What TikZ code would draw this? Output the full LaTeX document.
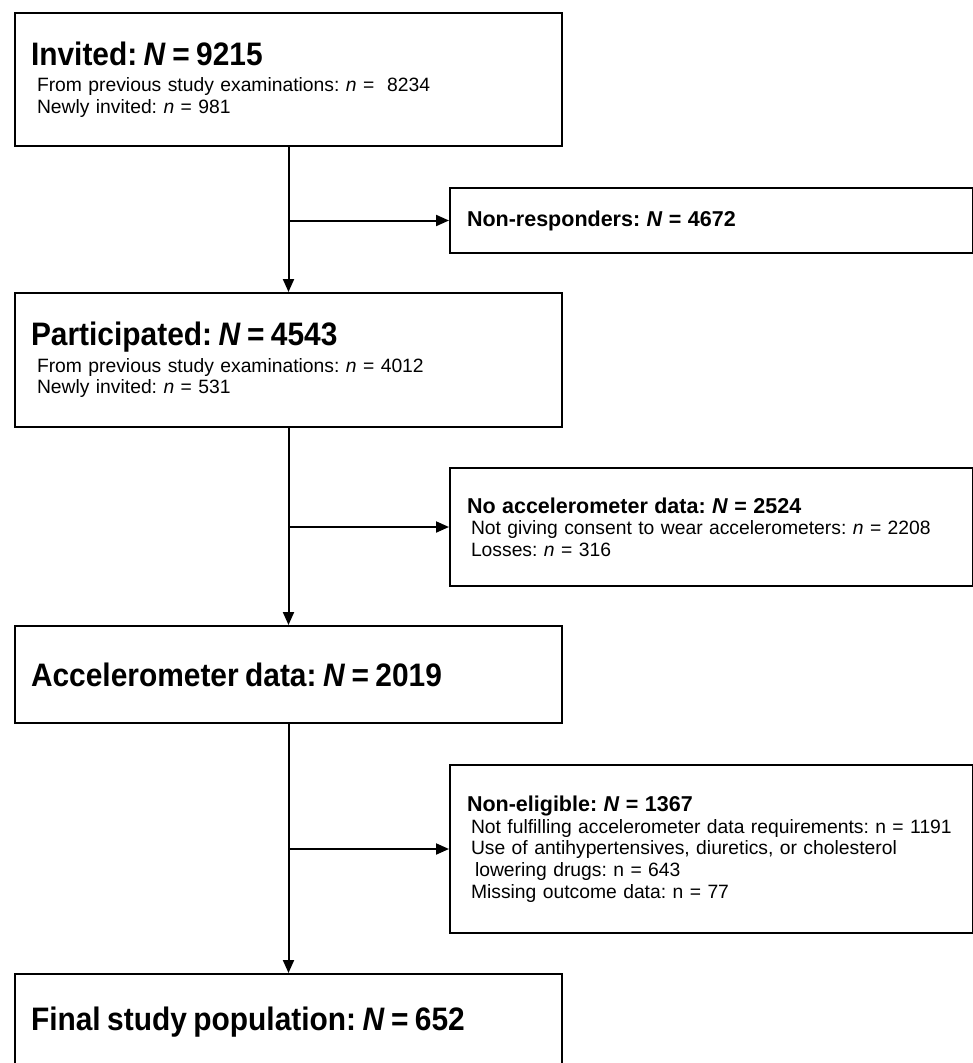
\documentclass[tikz,border=0pt]{standalone}
\usepackage{fontspec}
\setmainfont{Liberation Sans}
\newfontfamily\narrowfont{Liberation Sans}[FakeStretch=0.92]
\usetikzlibrary{arrows.meta}
\newcommand{\bigfont}{\narrowfont\fontsize{32.5}{37}\bfseries\selectfont}
\newcommand{\midfont}{\fontsize{21.5}{24}\bfseries\selectfont}
\newcommand{\smallfont}{\fontsize{19.3}{21.7}\selectfont\frenchspacing}
\begin{document}
\begin{tikzpicture}[x=1pt,y=-1pt,line width=2pt,
            mainbox/.style={draw,anchor=north west,minimum width=547pt,
                text width=515pt,inner xsep=16pt,align=left,font=\smallfont},
            sidebox/.style={draw,anchor=north west,minimum width=523pt,
                text width=489pt,inner xsep=17pt,align=left,font=\smallfont}]
            \clip (0,0) rectangle (973,1063);
            \path
            (14,12) node[mainbox,minimum height=133pt] (inv) {% <<< cột trái
                {\bigfont Invited: \textit{N} = 9215}\\[5pt]
                \hspace*{6pt}From previous study examinations: \textit{n} =\ \ 8234\\
                \hspace*{6pt}Newly invited: \textit{n} = 981}
            (14,292) node[mainbox,minimum height=134pt] (part) {%
                {\bigfont Participated: \textit{N} = 4543}\\[5pt]
                \hspace*{6pt}From previous study examinations: \textit{n} = 4012\\
                \hspace*{6pt}Newly invited: \textit{n} = 531}
            (14,625) node[mainbox,minimum height=97pt] (acc) {%
                {\bigfont Accelerometer data: \textit{N} = 2019}}
            (14,973) node[mainbox,minimum height=97pt] (fin) {%
                {\bigfont Final study population: \textit{N} = 652}}
            (449,187) node[sidebox,minimum height=65pt] (nonresp) {% <<< cột phải
                {\midfont Non-responders: \textit{N} = 4672}}
            (449,467) node[sidebox,minimum height=118pt] (noacc) {%
                {\midfont No accelerometer data: \textit{N} = 2524}\\
                \hspace*{4pt}Not giving consent to wear accelerometers: \textit{n} = 2208\\
                \hspace*{4pt}Losses: \textit{n} = 316}
            (449,764) node[sidebox,minimum height=168pt] (nonelig) {%
                {\midfont Non-eligible: \textit{N} = 1367}\\
                \hspace*{4pt}Not fulfilling accelerometer data requirements: n = 1191\\
                \hspace*{4pt}Use of antihypertensives, diuretics, or cholesterol\\
                \hspace*{8pt}lowering drugs: n = 643\\
                \hspace*{4pt}Missing outcome data: n = 77};
            \begin{scope}[-{Triangle[length=13pt,width=11pt]}]
                \draw (inv.south) -- (part.north);
                \draw (part.south) -- (acc.north);
                \draw (acc.south) -- (fin.north);
                \draw (inv.south |- nonresp.west) -- (nonresp.west);
                \draw (part.south |- noacc.west) -- (noacc.west);
                \draw (acc.south |- nonelig.west) -- (nonelig.west);
            \end{scope}
        \end{tikzpicture}
\end{document}
